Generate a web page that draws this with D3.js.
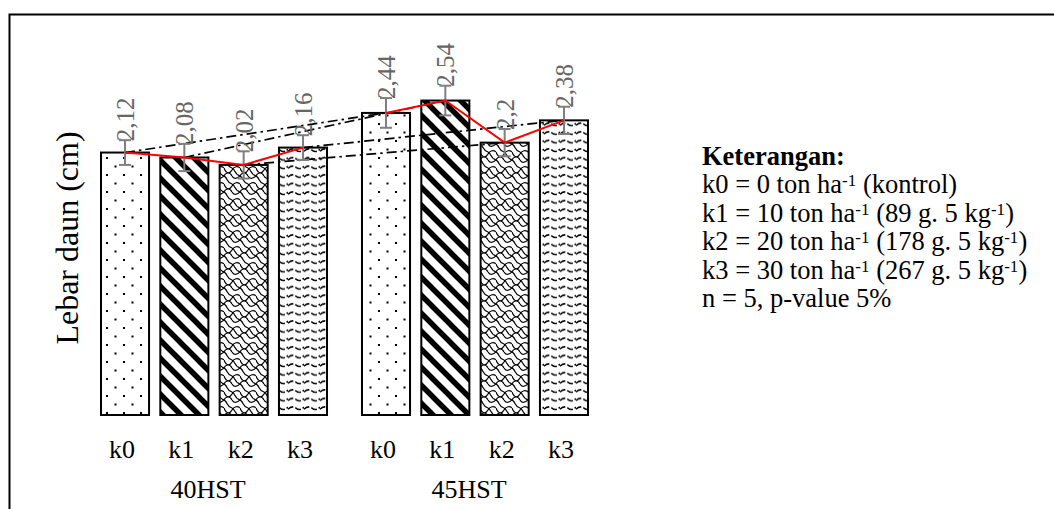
<!DOCTYPE html>
<html>
<head>
<meta charset="utf-8">
<script src="https://cdn.jsdelivr.net/npm/d3@7"></script>
<style>
  body { margin: 0; background: #fff; }
  text { font-family: "Liberation Serif", "Times New Roman", serif; }
</style>
</head>
<body>
<svg id="chart"></svg>
<script>
// data
var groups = ["40HST", "45HST"];
var treatments = ["k0", "k1", "k2", "k3"];
var values40 = [2.12, 2.08, 2.02, 2.16];
var values45 = [2.44, 2.54, 2.2, 2.38];
var errors40 = [0.1, 0.11, 0.11, 0.1];
var errors45 = [0.12, 0.12, 0.11, 0.11];
var labels40 = ["2,12", "2,08", "2,02", "2,16"];
var labels45 = ["2,44", "2,54", "2,2", "2,38"];
var legendTitle = "Keterangan:";
var legendLines = [
  ["k0 = 0 ton ha", "-1", " (kontrol)"],
  ["k1 = 10 ton ha", "-1", " (89 g. 5 kg", "-1", ")"],
  ["k2 = 20 ton ha", "-1", " (178 g. 5 kg", "-1", ")"],
  ["k3 = 30 ton ha", "-1", " (267 g. 5 kg", "-1", ")"],
  ["n = 5, p-value 5%"]
];

var screen = {width: 1054, height: 509};

var svg = d3.select("#chart")
  .attr("width", screen.width)
  .attr("height", screen.height);

// fill patterns
var defs = svg.append("defs");

var p0 = defs.append("pattern").attr("id", "pat-k0")
  .attr("patternUnits", "userSpaceOnUse").attr("width", 17).attr("height", 17);
p0.append("rect").attr("width", 17).attr("height", 17).attr("fill", "#fff");
p0.append("rect").attr("x", 4).attr("y", 4).attr("width", 2).attr("height", 2).attr("fill", "#000");
p0.append("rect").attr("x", 12.5).attr("y", 12.5).attr("width", 2).attr("height", 2).attr("fill", "#000");

var p1 = defs.append("pattern").attr("id", "pat-k1")
  .attr("patternUnits", "userSpaceOnUse").attr("width", 18).attr("height", 18);
p1.append("rect").attr("width", 18).attr("height", 18).attr("fill", "#fff");
p1.append("path").attr("d", "M-4,-4 L22,22 M-4,14 L4,22 M14,-4 L22,4")
  .attr("stroke", "#000").attr("stroke-width", 5.5);

var p2 = defs.append("pattern").attr("id", "pat-k2")
  .attr("patternUnits", "userSpaceOnUse").attr("width", 16).attr("height", 16);
p2.append("rect").attr("width", 16).attr("height", 16).attr("fill", "#fff");
p2.append("path")
  .attr("d", "M0,8 C2,14 6,14 8,10 C10,6 14,6 16,8 M0,0 C4,2 2,6 8,8 M8,8 C12,10 10,14 16,16 M8,0 C10,4 14,2 16,0 M0,16 C2,12 6,12 8,16")
  .attr("fill", "none").attr("stroke", "#000").attr("stroke-width", 1.2);

var p3 = defs.append("pattern").attr("id", "pat-k3")
  .attr("patternUnits", "userSpaceOnUse").attr("width", 16).attr("height", 8.6);
p3.append("rect").attr("width", 16).attr("height", 8.6).attr("fill", "#fff");
p3.append("path").attr("d", "M0,5 Q4,1 8,4 Q12,7 16,3")
  .attr("fill", "none").attr("stroke", "#000").attr("stroke-width", 1.5)
  .attr("stroke-dasharray", "6,2");

// frame
svg.append("path")
  .attr("d", "M9.5,509 L9.5,14.5 L1054,14.5")
  .attr("fill", "none").attr("stroke", "#000").attr("stroke-width", 2);

// scales
var xGroup = d3.scaleBand().domain(groups).range([101, 588]).paddingInner(0.134);
var xInner = d3.scaleBand().domain(treatments).range([0, xGroup.bandwidth()]).paddingInner(0.19);
var yScale = d3.scaleLinear().domain([0, 3]).range([415, 43.6]);

var rows = [];
groups.forEach(function(g, gi) {
  treatments.forEach(function(t, ti) {
    rows.push({
      group: g, k: t,
      value: gi === 0 ? values40[ti] : values45[ti],
      err: gi === 0 ? errors40[ti] : errors45[ti],
      label: gi === 0 ? labels40[ti] : labels45[ti]
    });
  });
});

var cx = function(d) { return xGroup(d.group) + xInner(d.k) + xInner.bandwidth() / 2; };

var plot = svg.append("g");

plot.selectAll("rect.bar")
  .data(rows)
  .enter()
  .append("rect")
  .attr("class", "bar")
  .attr("x", function(d) { return xGroup(d.group) + xInner(d.k); })
  .attr("y", function(d) { return yScale(d.value); })
  .attr("width", xInner.bandwidth())
  .attr("height", function(d) { return yScale(0) - yScale(d.value); })
  .attr("fill", function(d) { return "url(#pat-" + d.k + ")"; })
  .attr("stroke", "#000")
  .attr("stroke-width", 2);

// dash-dot lines joining the same treatment across days
treatments.forEach(function(t) {
  var pair = rows.filter(function(d) { return d.k === t; });
  plot.append("line")
    .attr("x1", cx(pair[0])).attr("y1", yScale(pair[0].value))
    .attr("x2", cx(pair[1])).attr("y2", yScale(pair[1].value))
    .attr("stroke", "#000").attr("stroke-width", 1.7)
    .attr("stroke-dasharray", "10,4,2.5,4");
});

// error bars
var eb = plot.selectAll("g.err")
  .data(rows)
  .enter()
  .append("g")
  .attr("class", "err")
  .attr("stroke", "#7f7f7f")
  .attr("stroke-width", 2);
eb.append("line")
  .attr("x1", cx).attr("x2", cx)
  .attr("y1", function(d) { return yScale(d.value + d.err); })
  .attr("y2", function(d) { return yScale(d.value - d.err); });
eb.append("line")
  .attr("x1", function(d) { return cx(d) - 6; }).attr("x2", function(d) { return cx(d) + 6; })
  .attr("y1", function(d) { return yScale(d.value + d.err); })
  .attr("y2", function(d) { return yScale(d.value + d.err); });
eb.append("line")
  .attr("x1", function(d) { return cx(d) - 6; }).attr("x2", function(d) { return cx(d) + 6; })
  .attr("y1", function(d) { return yScale(d.value - d.err); })
  .attr("y2", function(d) { return yScale(d.value - d.err); });

// red lines within each day
var redLine = d3.line()
  .x(cx)
  .y(function(d) { return yScale(d.value); });
groups.forEach(function(g) {
  plot.append("path")
    .datum(rows.filter(function(d) { return d.group === g; }))
    .attr("d", redLine)
    .attr("fill", "none")
    .attr("stroke", "#ff0000")
    .attr("stroke-width", 2);
});

// value labels
plot.selectAll("text.val")
  .data(rows)
  .enter()
  .append("text")
  .attr("class", "val")
  .attr("transform", function(d) {
    return "translate(" + (cx(d) + 9) + "," + (yScale(d.value + d.err) + 1) + ") rotate(-90)";
  })
  .attr("font-size", 25)
  .attr("fill", "#666")
  .text(function(d) { return d.label; });

// category axis
groups.forEach(function(g) {
  var ax = d3.axisBottom(xInner).tickSize(0).tickPadding(0);
  var ag = svg.append("g")
    .attr("transform", "translate(" + (xGroup(g) - 3) + ",440)")
    .call(ax);
  ag.select(".domain").remove();
  ag.selectAll("text")
    .attr("font-family", "Liberation Serif")
    .attr("font-size", 26)
    .attr("fill", "#000");
});
svg.selectAll("text.grp")
  .data(groups)
  .enter()
  .append("text")
  .attr("class", "grp")
  .attr("x", function(g) { return xGroup(g) + xGroup.bandwidth() / 2 - 6; })
  .attr("y", 498)
  .attr("text-anchor", "middle")
  .attr("font-size", 26)
  .text(function(g) { return g; });

// y label
svg.append("text")
  .attr("transform", "translate(78,238) rotate(-90)")
  .attr("text-anchor", "middle")
  .attr("font-size", 32)
  .text("Lebar daun (cm)");

// legend
var leg = svg.append("g").attr("transform", "translate(702,0)");
leg.append("text")
  .attr("y", 165)
  .attr("font-size", 26.5)
  .attr("font-weight", "bold")
  .text(legendTitle);
legendLines.forEach(function(parts, i) {
  var t = leg.append("text")
    .attr("y", 193 + i * 28.5)
    .attr("font-size", 26.5);
  parts.forEach(function(p, j) {
    var sup = j % 2 === 1;
    t.append("tspan")
      .attr("font-size", sup ? 17 : 26.5)
      .attr("baseline-shift", sup ? "40%" : null)
      .text(p);
  });
});
</script>
</body>
</html>
